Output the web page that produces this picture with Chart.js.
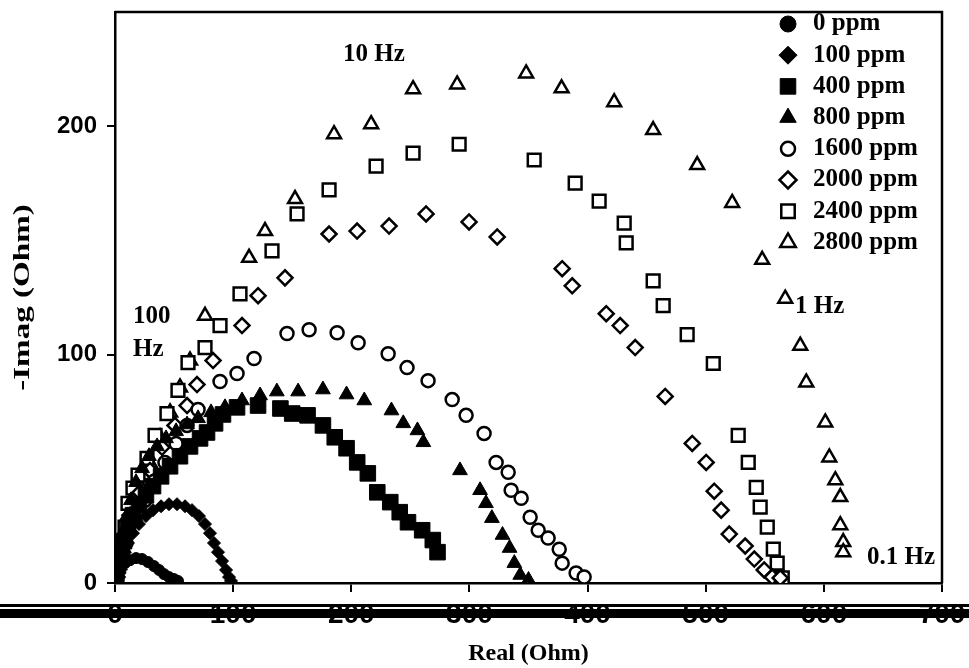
<!DOCTYPE html>
<html><head><meta charset="utf-8">
<script src="https://cdn.jsdelivr.net/npm/chart.js@4/dist/chart.umd.min.js"></script>
<style>html,body{margin:0;padding:0;background:#fff;}#wrap{width:969px;height:668px;}</style>
</head><body><div id="wrap"><canvas id="c" width="969" height="668"></canvas></div>
<script>
// ---- data (Real, -Imag in Ohm) ----
const seriesNames = ['0 ppm','100 ppm','400 ppm','800 ppm','1600 ppm','2000 ppm','2400 ppm','2800 ppm'];
const xTicks = [0,100,200,300,400,500,600,700];
const yTicks = [0,100,200];

const p0x = [0.8,2.5,5.1,8.5,12.7,17.8,22.9,27.9,33.0,37.3,41.5,45.7,50.0,53.3];
const p0y = [0.9,3.5,6.6,8.7,10.0,10.9,10.5,9.2,7.4,5.7,3.9,2.6,1.7,0.9];

const p100x = [0.8,2.5,5.1,7.6,11.0,15.2,20.3,26.2,32.2,39.0,45.7,52.5,59.3,65.2,71.1,76.2,80.4,83.8,87.2,90.6,94.0,96.5,98.2];
const p100y = [1.3,4.8,8.7,13.1,17.5,21.8,25.8,29.3,31.9,33.6,34.5,34.5,33.6,31.9,29.3,25.8,21.8,17.5,13.5,9.6,5.7,2.6,0.9];

const p400x = [0.8,2.5,5.1,7.6,11.0,15.2,20.3,26.2,32.2,39.0,46.6,55.0,63.5,72.0,77.9,84.7,91.4,103.3,121.1,140,150,163,176,186,196,205,214,222,233,241,248,260,269,273];
const p400y = [2.2,7.4,13.1,18.3,24.0,29.7,34.1,38.4,42.4,46.7,51.1,55.5,59.8,63.3,65.9,69.9,73.8,76.9,77.7,76.4,74.2,73.4,69,63.8,59,52.8,48,39.7,35.4,31,26.6,23.1,18.8,13.5];

const p800x = [0.8,2.5,4.2,6.8,10.2,13.5,17.8,22.9,28.8,35.6,43.2,51.7,61.0,70.3,81.3,93.1,107.5,122.8,137,155,176,196,211,234,244,256,261,292,309,314,319,328,334,338,343,350];
const p800y = [3.1,9.2,15.7,22.3,29.3,36.2,44.1,50.2,55.5,59.8,63.3,66.4,69.4,72.1,74.7,76.9,79.9,82.1,83.8,83.8,84.7,82.5,79.9,75.5,69.9,66.8,61.6,49.3,40.6,34.9,28.4,21,15.3,8.7,3.5,1.3];

const p1600x = [0.8,3.4,9.3,16.9,25.4,33.0,42.3,51.7,61.0,70.3,88.9,103.3,117.7,145.6,164.3,188.0,205.8,231.2,247.2,265.0,285.4,297.2,312.4,322.6,332.8,335.3,343.8,351.4,358.2,366.6,376.0,378.5,390.3,397.1];
const p1600y = [2.2,8.7,17.5,27.5,36.2,44.5,52.8,61.1,69.0,76.0,88.2,91.7,98.3,109.2,110.9,109.6,105.2,100.4,94.3,88.6,80.3,73.4,65.5,52.8,48.5,40.6,37.1,28.8,23.1,19.7,14.8,8.7,4.4,2.6];

const p2000x = [1.7,3.4,6.8,12.7,21.2,29.6,39.8,50.8,61.0,69.4,83.0,107.5,121.1,143.9,181.2,204.9,232.0,263.3,299.7,323.5,378.5,387.0,415.8,427.6,440.3,465.7,488.6,500.4,507.2,513.1,519.9,533.4,541.1,549.5,556.3,563.1];
const p2000y = [2.6,9.2,18.8,29.7,39.7,49.3,59.4,69.0,77.7,86.9,97.4,112.7,125.8,133.6,152.8,154.1,156.3,161.6,158.1,151.5,137.6,130.1,117.9,112.7,103.1,81.7,61.1,52.8,40.2,31.9,21.4,16.2,10.5,5.7,2.6,2.2];

const p2400x = [1.7,5.1,8.5,11.0,15.2,19.5,27.1,33.9,44.0,53.3,61.8,76.2,88.9,105.8,132.9,154.1,181.2,221.0,252.3,291.3,354.8,389.5,409.8,431.0,432.7,455.5,464.0,484.3,506.4,527.5,536.0,542.8,546.1,552.1,557.2,560.5,560.5,564.8];
const p2400y = [3.9,13.1,24.5,34.9,41.5,47.2,54.6,64.6,74.2,84.3,96.5,103.1,112.7,126.6,145.4,161.6,172.1,182.5,188.2,192.1,185.2,175.1,167.2,157.6,148.9,132.3,121.4,108.7,96.1,64.6,52.8,41.9,33.2,24.5,14.8,8.7,2.6,2.2];

const p2800x = [0.8,3.4,6.8,11.0,16.1,22.0,29.6,38.1,46.6,55.0,63.5,76.2,113.5,127.0,152.4,185.4,216.8,252.3,289.6,348.0,378.0,422.5,455.5,492.8,522.4,547.8,567.3,580.0,585.1,601.2,604.6,609.7,613.9,613.9,616.4,616.4];
const p2800y = [1.3,7.9,15.3,24.0,32.8,41.9,52.4,63.8,74.7,85.6,97.4,117.0,142.4,154.1,168.1,196.5,200.9,216.2,218.3,223.1,216.6,210.5,198.3,183.0,166.4,141.5,124.5,103.9,87.8,70.3,55.0,45.0,37.6,25.3,17.9,13.5];

const freqNotes = ['10 Hz','100','Hz','1 Hz','0.1 Hz'];
const xTitle = 'Real (Ohm)';
const yTitle = '-Imag (Ohm)';

// ---- build ----
const zip = (xs, ys) => xs.map((x, i) => ({x, y: ys[i]}));
const allX = [p0x,p100x,p400x,p800x,p1600x,p2000x,p2400x,p2800x];
const allY = [p0y,p100y,p400y,p800y,p1600y,p2000y,p2400y,p2800y];
const styles = [
  {ps:'circle',   r:5.5, filled:true,  lr:8},
  {ps:'rectRot',  r:6.5, filled:true,  lr:9},
  {ps:'rect',     r:11,  filled:true,  lr:11},
  {ps:'triangle', r:8.5, filled:true,  lr:9.5},
  {ps:'circle',   r:6.5, filled:false, lr:7},
  {ps:'rectRot',  r:7.5, filled:false, lr:8.5},
  {ps:'rect',     r:9,   filled:false, lr:9.5},
  {ps:'triangle', r:8,   filled:false, lr:9}
];
const datasets = seriesNames.map((name, i) => {
  const s = styles[i];
  return {
    label: name,
    data: zip(allX[i], allY[i]),
    showLine: false,
    pointStyle: s.ps,
    pointRadius: s.r,
    pointHoverRadius: s.r,
    pointBackgroundColor: s.filled ? '#000' : '#fff',
    pointBorderColor: '#000',
    pointBorderWidth: s.filled ? 1 : 2.5,
    order: s.filled ? 0 : 1
  };
});

const decor = {
  id: 'decor',
  afterDraw(chart) {
    const ctx = chart.ctx, a = chart.chartArea;
    ctx.save();
    // frame (top and right)
    ctx.strokeStyle = '#000'; ctx.lineWidth = 2.5;
    ctx.beginPath(); ctx.moveTo(a.left, a.top); ctx.lineTo(a.right, a.top); ctx.lineTo(a.right, a.bottom); ctx.stroke();
    // double rule across the tick labels
    ctx.fillStyle = '#000';
    ctx.fillRect(0, 604, chart.width, 3);
    ctx.fillRect(0, 609, chart.width, 9);
    // y title (tall lettering as in the scan)
    ctx.save();
    ctx.translate(23, (a.top + a.bottom) / 2);
    ctx.rotate(-Math.PI / 2);
    ctx.scale(1.38, 1);
    ctx.font = 'bold 24px "Liberation Serif"';
    ctx.textAlign = 'center'; ctx.textBaseline = 'middle';
    ctx.fillText(yTitle, 0, 0);
    ctx.restore();
    // frequency notes
    ctx.font = 'bold 25px "Liberation Serif"';
    ctx.textBaseline = 'middle'; ctx.textAlign = 'left';
    const pos = [[343,55],[133,317],[133,350],[795,307],[867,558]];
    freqNotes.forEach((t, i) => ctx.fillText(t, pos[i][0], pos[i][1]));
    // legend
    const lx = 788, tx = 813, y0 = 24, dy = 31.2;
    chart.data.datasets.forEach((ds, i) => {
      const s = styles[i];
      const y = y0 + i * dy;
      ctx.fillStyle = s.filled ? '#000' : '#fff';
      ctx.strokeStyle = '#000';
      ctx.lineWidth = s.filled ? 1 : 2.5;
      Chart.helpers.drawPoint(ctx, {pointStyle: s.ps, radius: s.lr, rotation: 0, borderWidth: ctx.lineWidth}, lx, y);
      ctx.fillStyle = '#000';
      ctx.font = 'bold 25px "Liberation Serif"';
      ctx.textBaseline = 'middle'; ctx.textAlign = 'left';
      ctx.fillText(ds.label, tx, y);
    });
    ctx.restore();
  }
};

new Chart(document.getElementById('c'), {
  type: 'scatter',
  data: { datasets },
  options: {
    responsive: false, animation: false, devicePixelRatio: 1,
    layout: { padding: { left: 0, top: 12, right: 27, bottom: 0 } },
    plugins: { legend: { display: false }, tooltip: { enabled: false } },
    scales: {
      x: {
        type: 'linear', min: 0, max: 700,
        afterBuildTicks: sc => { sc.ticks = xTicks.map(v => ({value: v})); },
        afterFit: sc => { sc.height = 85; sc.paddingLeft = 0; sc.paddingRight = 0; sc.paddingTop = 0; sc.paddingBottom = 0; },
        ticks: { color: '#000', padding: 6, font: { family: 'Liberation Sans', size: 28, weight: 'bold' } },
        grid: { display: true, drawOnChartArea: false, drawTicks: true, tickLength: 9, color: '#000', lineWidth: 2 },
        border: { display: true, color: '#000', width: 2.5 },
        title: { display: true, text: xTitle, color: '#000', padding: { top: 0, bottom: 0 },
                 font: { family: 'Liberation Serif', size: 24, weight: 'bold' } }
      },
      y: {
        type: 'linear', min: 0, max: 250,
        afterBuildTicks: sc => { sc.ticks = yTicks.map(v => ({value: v})); },
        afterFit: sc => { sc.width = 115; sc.paddingLeft = 0; sc.paddingRight = 0; sc.paddingTop = 0; sc.paddingBottom = 0; },
        ticks: { color: '#000', padding: 10, font: { family: 'Liberation Sans', size: 24, weight: 'bold' } },
        grid: { display: true, drawOnChartArea: false, drawTicks: true, tickLength: 8, color: '#000', lineWidth: 2 },
        border: { display: true, color: '#000', width: 2.5 },
        title: { display: false }
      }
    }
  },
  plugins: [decor]
});
</script>
</body></html>
